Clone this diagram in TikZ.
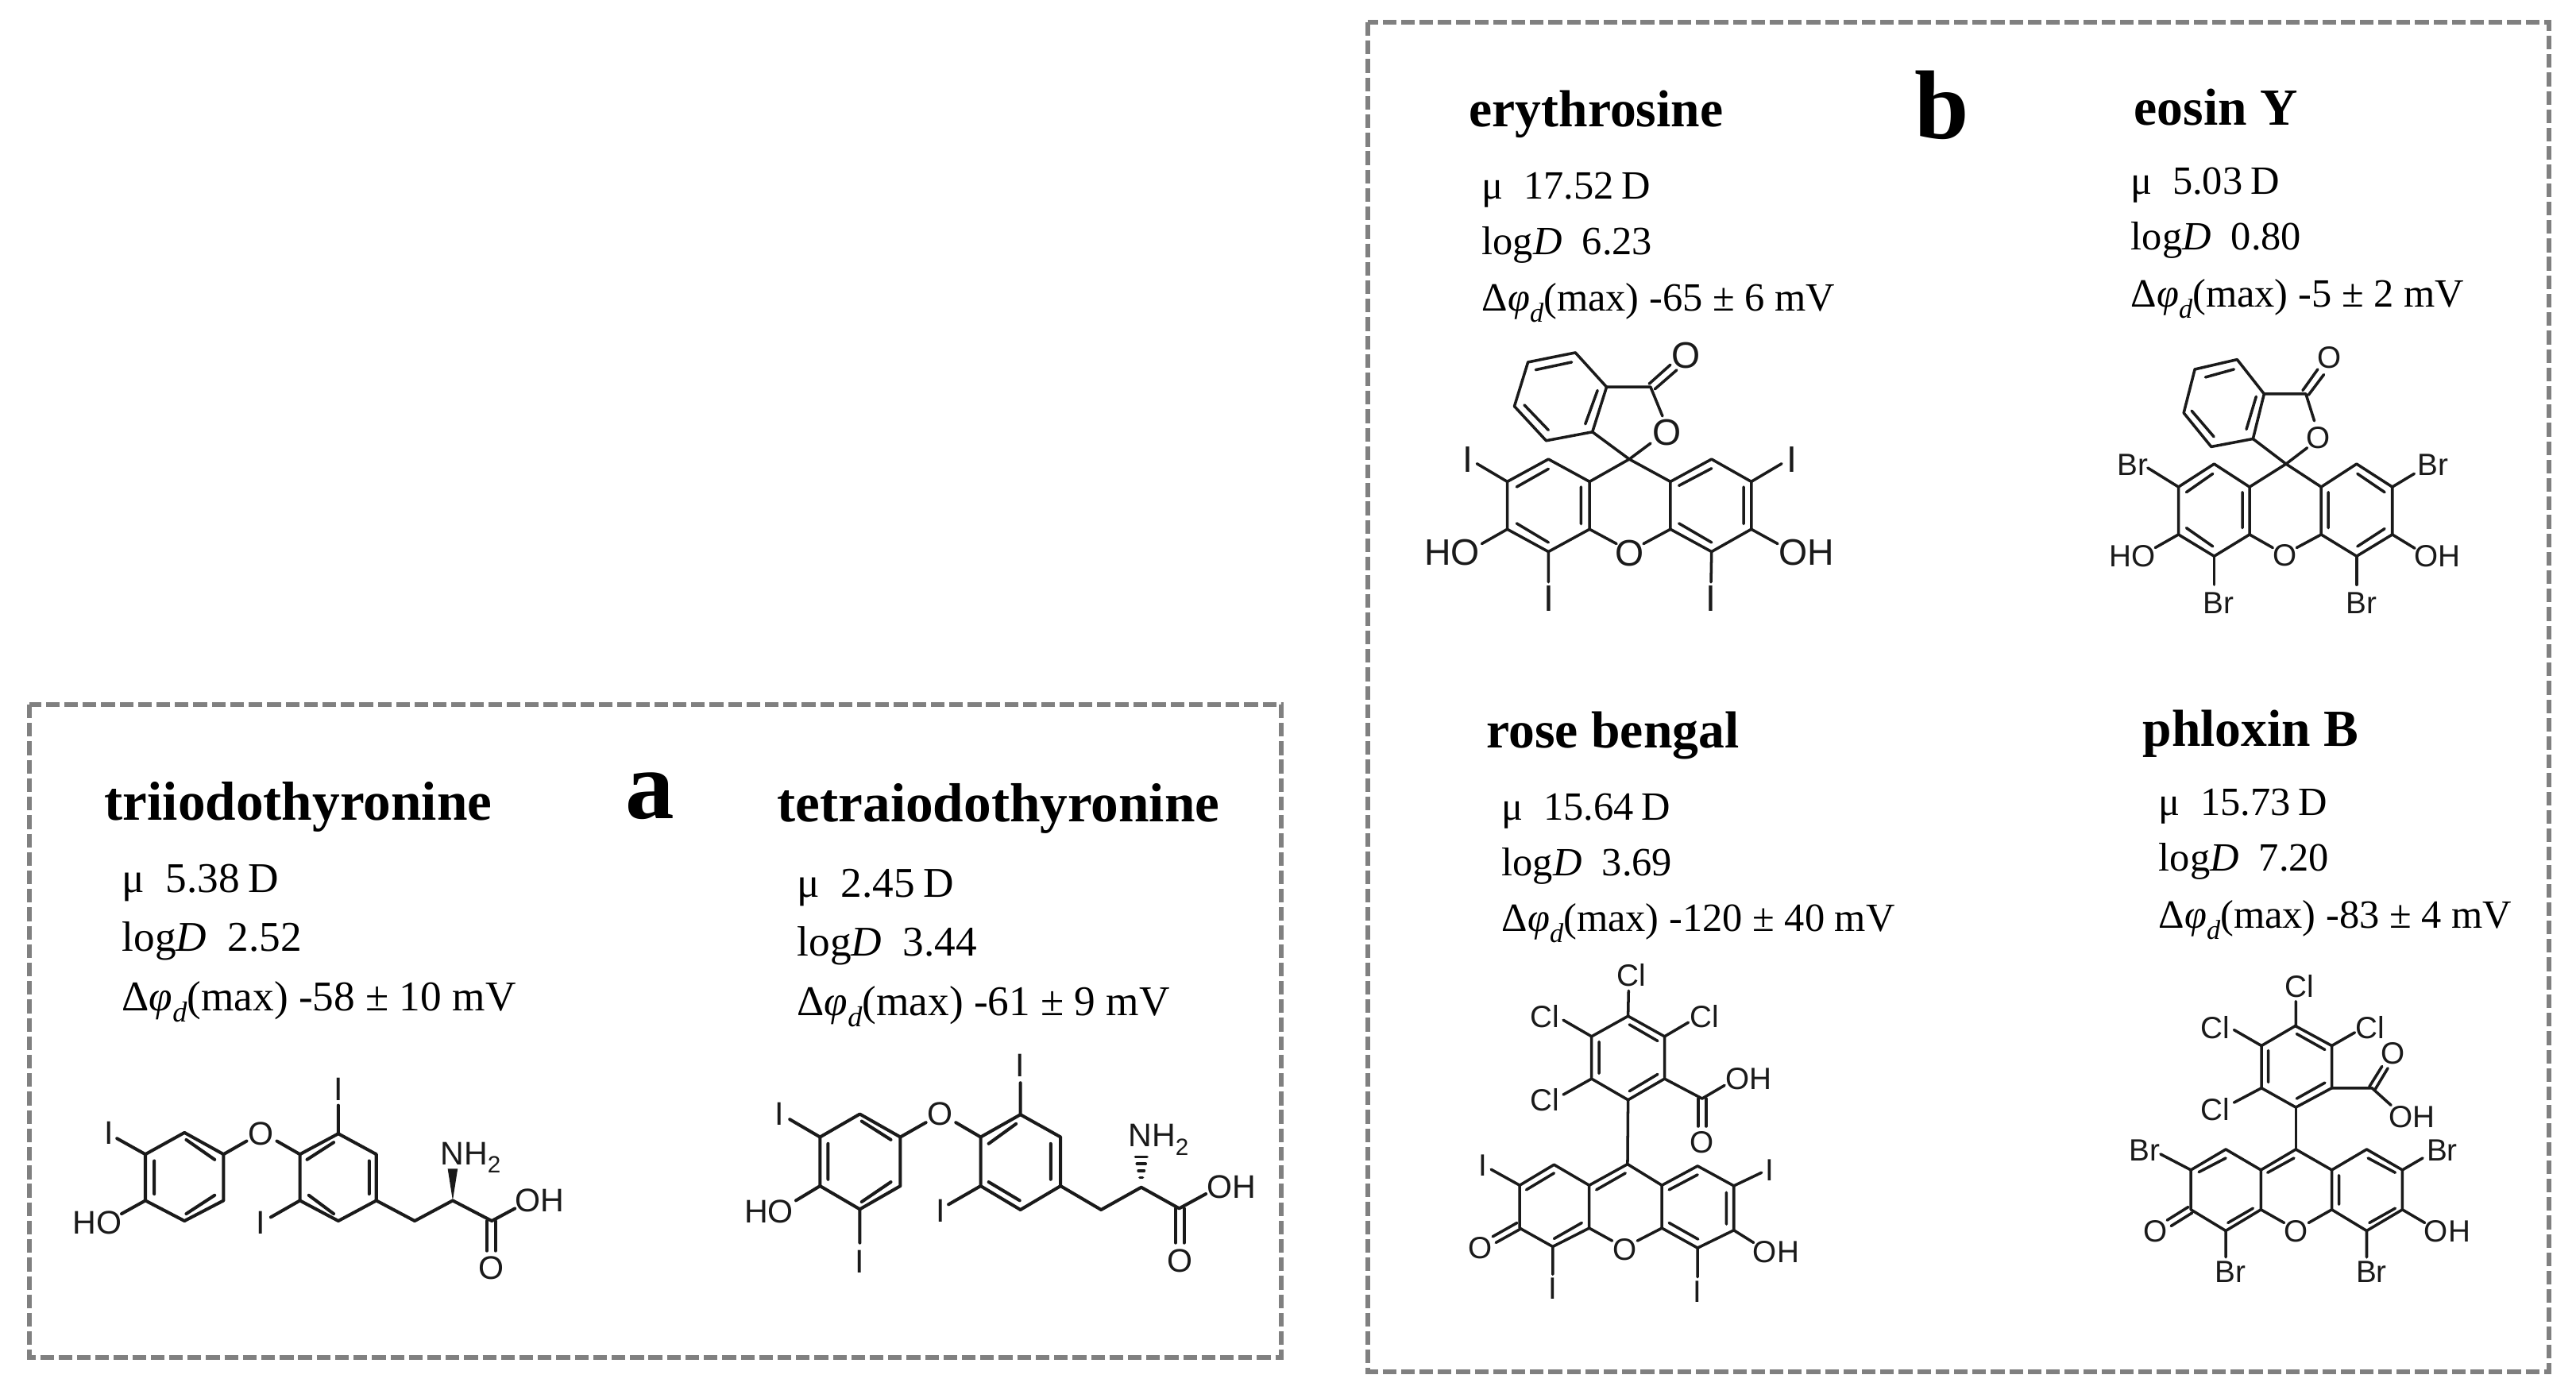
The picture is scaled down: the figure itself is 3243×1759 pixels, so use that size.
\documentclass[tikz,border=0pt]{standalone}
\usepackage{fontspec}
\setmainfont{Liberation Serif}
\newfontfamily\atomfont{Liberation Sans}
\definecolor{framegray}{HTML}{808080}
\definecolor{ink}{HTML}{1A1A1A}
\tikzset{
  panelframe/.style={draw=framegray,line width=1.65pt,dash pattern=on 4.9pt off 1.7pt},
  bond/.style={draw=ink,line width=1.15pt,line cap=round,line join=round},
  thinbond/.style={draw=ink,line width=1pt,line cap=round,line join=round},
  atom/.style={inner sep=0pt,text=ink,font=\atomfont\fontsize{11.7}{12}\selectfont},
  atomlg/.style={inner sep=0pt,text=ink,font=\atomfont\fontsize{13.2}{14}\selectfont},
  atomsm/.style={inner sep=0pt,text=ink,font=\atomfont\fontsize{11}{12}\selectfont},
  compound/.style={anchor=base west,inner sep=0pt,font=\bfseries\fontsize{19.7}{22}\selectfont},
  datum/.style={anchor=base west,inner sep=0pt,font=\fontsize{15.15}{18}\selectfont},
  compoundb/.style={anchor=base west,inner sep=0pt,font=\bfseries\fontsize{18.65}{22}\selectfont},
  datumb/.style={anchor=base west,inner sep=0pt,font=\fontsize{14.35}{18}\selectfont},
  panelletter/.style={anchor=base west,inner sep=0pt,font=\bfseries\fontsize{35}{37}\selectfont}
}
\newcommand{\dphi}{Δ{\itshape φ\raisebox{-.28em}{\scalebox{.68}{d}}}}
\newcommand{\subtwo}{\raisebox{-.25em}{\scalebox{.72}{2}}}
% style, prefix, x, y1, y2, y3, mu value, logD value, delta value
\newcommand{\infoblock}[9]{%
  \node[#1] (#2mu) at (#3,#4) {μ\hspace{.5em}#7\hspace{.2em}D};
  \node[#1] (#2log) at (#3,#5) {log{\itshape D}\hspace{.5em}#8};
  \node[#1] (#2dp) at (#3,#6) {\dphi(max) #9 mV};
}
\begin{document}
\begin{tikzpicture}[x=0.01cm,y=-0.01cm]
\useasboundingbox (0,0) rectangle (3243,1759);
\fill[white] (0,0) rectangle (3243,1759);

% frames
\draw[panelframe] (37,887) rectangle (1613,1709);
\draw[panelframe] (1722,28) rectangle (3209,1727);

% panel letters
\node[panelletter] (la) at (787,1030) {a};
\node[panelletter] (lb) at (2410,174) {b};

% names and data
\node[compound] (n1) at (131,1032) {triiodothyronine};
\infoblock{datum}{a}{153}{1123}{1197}{1272}{5.38}{2.52}{-58 ± 10}
\node[compound] (n2) at (978,1034) {tetraiodothyronine};
\infoblock{datum}{b}{1003}{1129}{1203}{1278}{2.45}{3.44}{-61 ± 9}
\node[compoundb] (n3) at (1849,159) {erythrosine};
\infoblock{datumb}{c}{1865}{250}{320}{391}{17.52}{6.23}{-65 ± 6}
\node[compoundb] (n4) at (2686,157) {eosin Y};
\infoblock{datumb}{d}{2682}{244}{314}{386}{5.03}{0.80}{-5 ± 2}
\node[compoundb] (n5) at (1871,941) {rose bengal};
\infoblock{datumb}{e}{1890}{1032}{1102}{1172}{15.64}{3.69}{-120 ± 40}
\node[compoundb] (n6) at (2697,939) {phloxin B};
\infoblock{datumb}{f}{2717}{1026}{1096}{1168}{15.73}{7.20}{-83 ± 4}

% ---------- triiodothyronine
\begin{scope}[shift={(60,1340)},x=0.0044643cm,y=-0.0033333cm]
\draw[bond] (275,340)--(385,258)--(495,340)--(495,515)--(385,592)--(275,515)--cycle;
\draw[bond] (300,365)--(300,490) (390,285)--(470,360) (390,565)--(470,495);
\draw[bond] (710,340)--(818,262)--(925,340)--(925,515)--(818,592)--(710,515)--cycle;
\draw[bond] (730,360)--(805,295) (905,365)--(905,490) (735,495)--(805,565);
\draw[bond] (275,340)--(195,280) (275,515)--(208,565) (495,340)--(560,290) (645,290)--(710,340);
\draw[bond] (818,262)--(818,155) (710,515)--(628,578);
\draw[bond] (925,515)--(1033,592)--(1140,515)--(1250,592)--(1315,545);
\draw[bond] (1236,592)--(1236,705) (1260,592)--(1260,705);
\fill[ink] (1140,515)--(1126,395)--(1154,395)--cycle;
\node[atom] (ta1) at (172,260) {I};
\node[atom] (ta2) at (140,598) {HO};
\node[atom] (ta3) at (600,262) {O};
\node[atom] (ta4) at (818,95) {I};
\node[atom] (ta5) at (600,598) {I};
\node[atom] (ta6) at (1190,352) {NH\subtwo};
\node[atom] (ta7) at (1385,515) {OH};
\node[atom] (ta8) at (1248,770) {O};
\end{scope}

% ---------- tetraiodothyronine
\begin{scope}[shift={(900,1300)},x=0.0045914cm,y=-0.0033333cm]
\draw[bond] (288,395)--(397,308)--(508,395)--(508,580)--(397,668)--(288,580)--cycle;
\draw[bond] (310,420)--(310,555) (402,335)--(482,405) (402,640)--(482,565);
\draw[bond] (728,395)--(837,310)--(947,395)--(947,580)--(837,670)--(728,580)--cycle;
\draw[bond] (750,420)--(825,345) (920,420)--(920,555) (750,565)--(835,635);
\draw[bond] (288,395)--(205,328) (288,580)--(222,635) (397,668)--(397,795);
\draw[bond] (508,395)--(578,340) (660,340)--(728,395);
\draw[bond] (837,310)--(837,190) (728,580)--(640,650);
\draw[bond] (947,580)--(1058,670)--(1168,585)--(1272,665)--(1345,610);
\draw[bond] (1262,665)--(1262,795) (1285,665)--(1285,795);
\draw[thinbond] (1164,548)--(1172,548) (1160,522)--(1176,522) (1156,496)--(1180,496) (1152,470)--(1184,470);
\node[atom] (tb1) at (177,308) {I};
\node[atom] (tb2) at (148,678) {HO};
\node[atom] (tb3) at (397,865) {I};
\node[atom] (tb4) at (617,308) {O};
\node[atom] (tb5) at (837,125) {I};
\node[atom] (tb6) at (618,673) {I};
\node[atom] (tb7) at (1215,405) {NH\subtwo};
\node[atom] (tb8) at (1415,585) {OH};
\node[atom] (tb9) at (1275,862) {O};
\end{scope}

% ---------- erythrosine
\begin{scope}[shift={(1760,400)},x=0.0035714cm,y=-0.0033333cm]
\draw[thinbond] (385,620)--(530,535)--(675,620)--(675,800)--(530,885)--(385,800)--cycle;
\draw[thinbond] (960,620)--(1105,535)--(1245,620)--(1245,800)--(1105,885)--(960,800)--cycle;
\draw[thinbond] (418,640)--(530,572) (645,640)--(645,780) (418,778)--(530,850);
\draw[thinbond] (990,635)--(1105,570) (1218,640)--(1218,780) (990,778)--(1105,850);
\draw[thinbond] (675,620)--(815,535)--(960,620);
\draw[thinbond] (675,800)--(770,855) (960,800)--(865,855);
\draw[thinbond] (385,620)--(278,552) (1245,620)--(1352,552) (385,800)--(295,855) (1245,800)--(1338,855);
\draw[thinbond] (530,885)--(530,1000) (1105,885)--(1103,1000);
\draw[thinbond] (685,432)--(735,262)--(625,132)--(458,168)--(410,335)--(522,465)--cycle;
\draw[thinbond] (660,402)--(703,275) (485,197)--(612,168) (445,330)--(530,425);
\draw[thinbond] (735,262)--(890,262)--(932,372) (890,475)--(815,535)--(685,432);
\draw[thinbond] (885,250)--(960,178) (905,270)--(982,198);
\node[atomlg] (tc1) at (245,537) {I};
\node[atomlg] (tc2) at (1388,537) {I};
\node[atomlg] (tc3) at (190,888) {HO};
\node[atomlg] (tc4) at (1440,888) {OH};
\node[atomlg] (tc5) at (815,890) {O};
\node[atomlg] (tc6) at (532,1062) {I};
\node[atomlg] (tc7) at (1103,1062) {I};
\node[atomlg] (tc8) at (948,435) {O};
\node[atomlg] (tc9) at (1015,142) {O};
\end{scope}

% ---------- eosin Y
\begin{scope}[shift={(2620,410)},x=0.0033333cm,y=-0.0033333cm]
\draw[thinbond] (368,610)--(503,523)--(637,610)--(637,790)--(503,872)--(368,790)--cycle;
\draw[thinbond] (908,610)--(1042,523)--(1177,610)--(1177,790)--(1042,872)--(908,790)--cycle;
\draw[thinbond] (398,630)--(498,560) (610,630)--(610,765) (398,765)--(498,835);
\draw[thinbond] (935,630)--(935,765) (1045,560)--(1148,630) (1045,835)--(1148,768);
\draw[thinbond] (637,610)--(775,523)--(908,610);
\draw[thinbond] (637,790)--(725,840) (908,790)--(815,840);
\draw[thinbond] (368,610)--(252,538) (1177,610)--(1260,560) (368,790)--(280,840) (1177,790)--(1262,842);
\draw[thinbond] (503,872)--(503,980) (1042,872)--(1042,980);
\draw[thinbond] (650,428)--(692,258)--(590,128)--(430,165)--(388,330)--(492,458)--cycle;
\draw[thinbond] (625,392)--(662,268) (470,195)--(578,165) (418,322)--(502,420);
\draw[thinbond] (692,258)--(850,258)--(882,360) (855,462)--(775,523)--(650,428);
\draw[thinbond] (838,245)--(895,165) (860,262)--(918,185);
\node[atomsm] (td1) at (195,525) {Br};
\node[atomsm] (td2) at (1330,525) {Br};
\node[atomsm] (td3) at (195,872) {HO};
\node[atomsm] (td4) at (1348,872) {OH};
\node[atomsm] (td5) at (770,868) {O};
\node[atomsm] (td6) at (520,1050) {Br};
\node[atomsm] (td7) at (1060,1050) {Br};
\node[atomsm] (td8) at (897,423) {O};
\node[atomsm] (td9) at (938,120) {O};
\end{scope}

% ---------- rose bengal
\begin{scope}[shift={(1800,1190)},x=0.0033333cm,y=-0.0033333cm]
\draw[thinbond] (750,268)--(888,345)--(888,505)--(750,585)--(612,505)--(612,345)--cycle;
\draw[thinbond] (755,300)--(862,362) (862,488)--(755,552) (640,365)--(640,485);
\draw[thinbond] (750,268)--(752,172) (612,345)--(505,283) (888,345)--(978,292) (612,505)--(505,565);
\draw[thinbond] (888,505)--(1030,580)--(1115,530);
\draw[thinbond] (1015,580)--(1015,685) (1045,580)--(1045,685);
\draw[thinbond] (750,585)--(748,828);
\draw[thinbond] (340,908)--(470,830)--(603,908)--(603,1070)--(465,1140)--(340,1070)--cycle;
\draw[thinbond] (878,908)--(1013,835)--(1150,910)--(1150,1078)--(1013,1145)--(878,1070)--cycle;
\draw[thinbond] (603,908)--(748,828)--(878,908) (630,925)--(740,862);
\draw[thinbond] (365,925)--(470,862) (470,1110)--(575,1050);
\draw[thinbond] (905,925)--(1013,868) (1122,935)--(1122,1055) (905,1050)--(1015,1112);
\draw[thinbond] (603,1070)--(690,1118) (878,1070)--(785,1118);
\draw[thinbond] (340,908)--(232,848) (1150,910)--(1255,860) (330,1050)--(238,1102) (345,1072)--(250,1125);
\draw[thinbond] (1150,1078)--(1225,1125) (465,1140)--(465,1245) (1013,1145)--(1013,1255);
\node[atomsm] (te1) at (762,112) {Cl};
\node[atomsm] (te2) at (435,268) {Cl};
\node[atomsm] (te3) at (1040,270) {Cl};
\node[atomsm] (te4) at (435,585) {Cl};
\node[atomsm] (te5) at (1205,505) {OH};
\node[atomsm] (te6) at (1030,745) {O};
\node[atomsm] (te7) at (200,832) {I};
\node[atomsm] (te8) at (1287,850) {I};
\node[atomsm] (te9) at (190,1145) {O};
\node[atomsm] (te10) at (738,1150) {O};
\node[atomsm] (te11) at (1310,1160) {OH};
\node[atomsm] (te12) at (465,1300) {I};
\node[atomsm] (te13) at (1013,1310) {I};
\end{scope}

% ---------- phloxin B
\begin{scope}[shift={(2640,1200)},x=0.0033333cm,y=-0.0033333cm]
\draw[thinbond] (750,275)--(888,350)--(888,510)--(752,583)--(622,510)--(622,350)--cycle;
\draw[thinbond] (755,305)--(862,365) (862,490)--(755,550) (648,368)--(648,488);
\draw[thinbond] (752,275)--(752,182) (622,350)--(518,290) (888,350)--(975,300) (622,510)--(518,565);
\draw[thinbond] (888,510)--(1040,510)--(1112,575);
\draw[thinbond] (1030,505)--(1078,428) (1052,515)--(1100,435);
\draw[thinbond] (752,583)--(752,742);
\draw[thinbond] (355,820)--(487,742)--(620,820)--(620,970)--(487,1050)--(355,970)--cycle;
\draw[thinbond] (888,820)--(1020,742)--(1155,820)--(1155,970)--(1020,1050)--(888,970)--cycle;
\draw[thinbond] (620,820)--(752,742)--(888,820) (645,830)--(745,775);
\draw[thinbond] (385,828)--(487,775) (495,1020)--(590,965);
\draw[thinbond] (915,840)--(915,950) (1025,775)--(1128,830) (1030,1020)--(1128,965);
\draw[thinbond] (620,970)--(708,1020) (888,970)--(800,1020);
\draw[thinbond] (355,820)--(240,760) (1155,820)--(1232,775) (345,960)--(265,1010) (360,982)--(280,1032);
\draw[thinbond] (1155,970)--(1240,1020) (487,1050)--(487,1150) (1020,1050)--(1020,1150);
\node[atomsm] (tf1) at (765,125) {Cl};
\node[atomsm] (tf2) at (448,280) {Cl};
\node[atomsm] (tf3) at (1032,280) {Cl};
\node[atomsm] (tf4) at (448,590) {Cl};
\node[atomsm] (tf5) at (1190,620) {OH};
\node[atomsm] (tf6) at (1118,378) {O};
\node[atomsm] (tf7) at (180,745) {Br};
\node[atomsm] (tf8) at (1305,745) {Br};
\node[atomsm] (tf9) at (220,1052) {O};
\node[atomsm] (tf10) at (752,1052) {O};
\node[atomsm] (tf11) at (1325,1052) {OH};
\node[atomsm] (tf12) at (505,1205) {Br};
\node[atomsm] (tf13) at (1038,1205) {Br};
\end{scope}
\end{tikzpicture}
\end{document}
